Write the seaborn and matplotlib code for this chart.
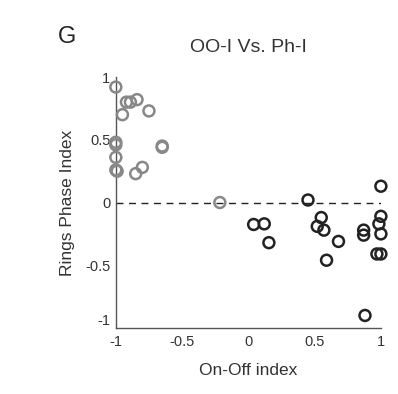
import numpy as np
import pandas as pd
import matplotlib
matplotlib.use("Agg")
import matplotlib.pyplot as plt
import matplotlib.transforms as mtransforms
import seaborn as sns

# gray group (OO-I)
oo_x = [-1.0, -0.92, -0.89, -0.84, -0.95, -0.75, -1.0, -1.0, -1.0, -1.0, -0.99,
        -0.65, -0.65, -0.85, -0.80, -0.215]
oo_y = [0.92, 0.80, 0.80, 0.82, 0.70, 0.73, 0.48, 0.46, 0.36, 0.26, 0.25,
        0.45, 0.44, 0.23, 0.28, 0.0]

# black group (Ph-I)
ph_x = [1.0, 0.45, 0.04, 0.12, 0.155, 0.55, 0.52, 0.57, 0.68, 0.59, 0.87, 0.87,
        1.0, 0.985, 1.0, 0.97, 1.0, 0.88]
ph_y = [0.13, 0.02, -0.175, -0.17, -0.32, -0.12, -0.19, -0.22, -0.31, -0.46,
        -0.22, -0.26, -0.11, -0.17, -0.25, -0.41, -0.41, -0.90]

ticks = [-1, -0.5, 0, 0.5, 1]
tick_labels = ["-1", "-0.5", "0", "0.5", "1"]

sns.set_style("white")
plt.rcParams['font.family'] = ['Liberation Sans', 'DejaVu Sans']

fig = plt.figure(figsize=(3.98, 3.94), dpi=100)
ax = fig.add_axes([0.291, 0.1675, 0.666, 0.637])

ax.plot([-1, 1], [0, 0], color="#222222", lw=1, ls=(0, (5, 4)), zorder=1)

gray = "#888888"
dark = "#222222"
df_oo = pd.DataFrame({"x": oo_x, "y": oo_y})
df_ph = pd.DataFrame({"x": ph_x, "y": ph_y})
sns.scatterplot(data=df_oo, x="x", y="y", ax=ax, marker="o", s=62,
                facecolors="none", edgecolor=gray, linewidth=1.8,
                clip_on=False, zorder=3)
sns.scatterplot(data=df_ph, x="x", y="y", ax=ax, marker="o", s=62,
                facecolors="none", edgecolor=dark, linewidth=1.8,
                clip_on=False, zorder=3)

ax.set_xlim(-1, 1)
ax.set_ylim(-1, 1)
ax.set_xticks(ticks)
ax.set_xticklabels(tick_labels)
ax.set_yticks(ticks)
ax.set_yticklabels(tick_labels)
ax.tick_params(direction="in", length=3, width=0.8, labelsize=10.5,
               colors="#333333")
ax.tick_params(axis="x", pad=5)
ax.tick_params(axis="y", pad=4)
for side in ["top", "right"]:
    ax.spines[side].set_visible(False)
for side in ["left", "bottom"]:
    ax.spines[side].set_color("#555555")
    ax.spines[side].set_linewidth(1)

# matlab-style: lift the bottom y label so it clears the x "-1"
lbl = ax.get_yticklabels()[0]
lbl.set_transform(lbl.get_transform() +
                  mtransforms.ScaledTranslation(0, 6 / 72, fig.dpi_scale_trans))

ax.set_xlabel("On-Off index", fontsize=12.5, color="#333333", labelpad=10)
ax.set_ylabel("Rings Phase Index", fontsize=12.5, color="#333333", labelpad=7)
ax.set_title("OO-I Vs. Ph-I", fontsize=14, color="#333333", pad=18)

fig.text(0.145, 0.905, "G", fontsize=17, color="#222222", va="center")

fig.savefig("out.png", dpi=100)
